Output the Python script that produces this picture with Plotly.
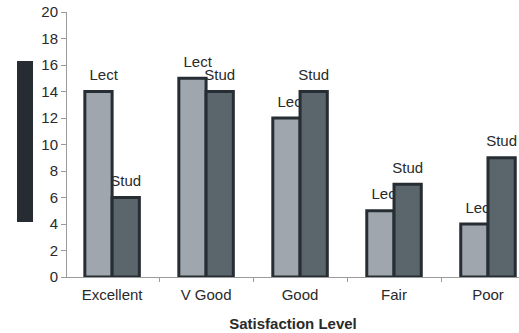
import plotly.graph_objects as go

categories = ["Excellent", "V Good", "Good", "Fair", "Poor"]
lect = [14, 15, 12, 5, 4]
stud = [6, 14, 14, 7, 9]
y_ticks = list(range(0, 21, 2))

font_family = "Liberation Sans, Arial, sans-serif"
outline = "#262d33"
text_color = "#2a2a2a"
bar_w = 0.29
label_lift = 0.4  # vertical gap between bar top and its label, in axis units

fig = go.Figure()


def add_series(values, name, color, offset, text_dx):
    # invisible carrier for the label (drawn before the bar series)
    fig.add_trace(go.Bar(
        x=categories, y=[v + label_lift for v in values], name=name + " label",
        width=bar_w, offset=offset + text_dx,
        marker=dict(color="rgba(0,0,0,0)", line=dict(width=0)),
        text=[name] * len(values), textposition="outside",
        constraintext="none", cliponaxis=False,
        textfont=dict(family=font_family, size=15, color=text_color),
        hoverinfo="skip",
    ))
    fig.add_trace(go.Bar(
        x=categories, y=values, name=name,
        width=bar_w, offset=offset,
        marker=dict(color=color, line=dict(color=outline, width=3)),
    ))


add_series(lect, "Lect", "#9fa6ad", -bar_w, 0.06)
add_series(stud, "Stud", "#5a656c", 0.0, 0.0)

fig.update_layout(
    width=519, height=333,
    margin=dict(l=67, r=0, t=12, b=56),
    paper_bgcolor="white", plot_bgcolor="white",
    barmode="overlay",
    showlegend=False,
    font=dict(family=font_family, size=15, color=text_color),
    xaxis=dict(
        range=[-0.48, 4.33],
        showline=True, linecolor="#9a9a9a", linewidth=1,
        ticks="outside", ticklen=4, tickcolor="#9a9a9a",
        tickson="boundaries", showgrid=False,
        tickfont=dict(size=15), ticklabelstandoff=4,
        title=dict(text="<b>Satisfaction Level</b>", font=dict(size=15), standoff=16),
    ),
    yaxis=dict(
        range=[0, 20], tickvals=y_ticks,
        showline=True, linecolor="#9a9a9a", linewidth=1,
        ticks="outside", ticklen=5, tickcolor="#9a9a9a",
        showgrid=False, zeroline=False,
        tickfont=dict(size=15),
    ),
    shapes=[dict(
        type="rect", xref="paper", yref="paper",
        x0=-0.1106, x1=-0.0752, y0=0.2075, y1=0.815,
        fillcolor="#262c31", line=dict(width=0),
    )],
)

fig.write_html("out.html")
